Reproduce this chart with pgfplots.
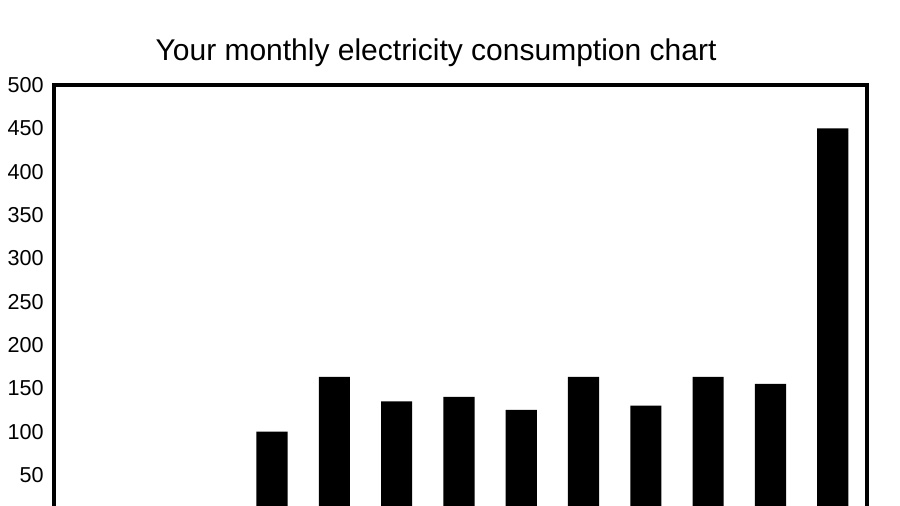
\documentclass[border=0pt]{standalone}
\usepackage{pgfplots}
\pgfplotsset{compat=1.18}
\usepackage{fontspec}
\setmainfont{Liberation Sans}
\begin{document}
\begin{tikzpicture}
\begin{axis}[
  at={(0pt,0pt)}, anchor=south west,
  scale only axis, width=609.75pt, height=325pt,
  xmin=-0.5, xmax=12.55, ymin=0, ymax=500,
  ytick={0,50,...,500}, xtick=\empty,
  major tick length=0pt,
  axis line style={line width=2.6pt},
  yticklabel style={font=\fontsize{16.2}{19}\selectfont, anchor=east, inner sep=0pt, xshift=-7.5pt},
  /pgf/number format/assume math mode=true,
  ybar, bar width=0.5,
  clip=false,
]
\addplot[fill=black, draw=none] coordinates {(3,100) (4,163) (5,135) (6,140) (7,125) (8,163) (9,130) (10,163) (11,155) (12,450)};
\node[anchor=base, font=\fontsize{22.5}{27}\selectfont, inner sep=0pt] at (rel axis cs:0.4699,1.056) {Your monthly electricity consumption chart};
\end{axis}
\pgfresetboundingbox
\path (-40.5pt,9.2pt) rectangle (634.5pt,388.7pt);
\end{tikzpicture}
\end{document}
